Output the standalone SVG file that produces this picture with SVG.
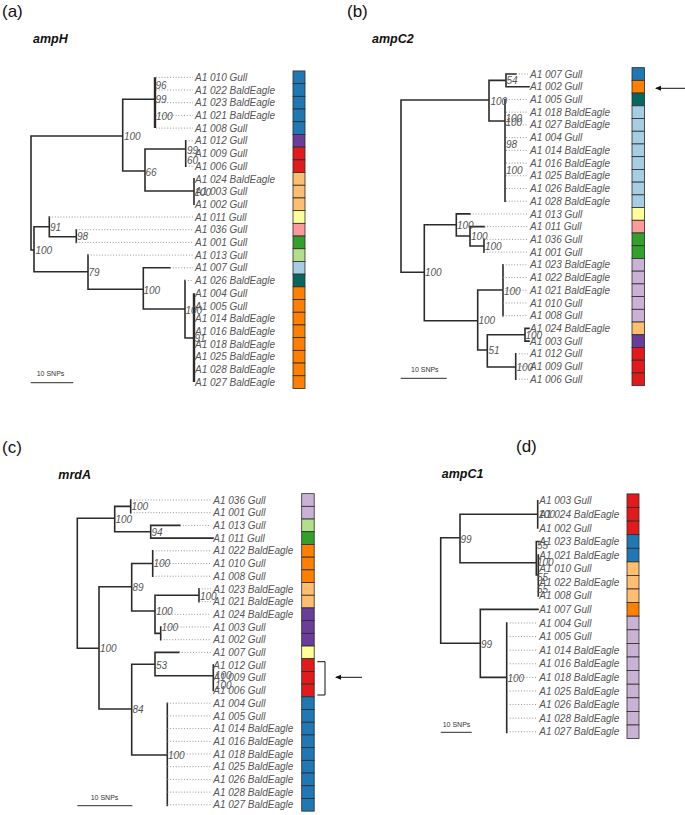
<svg xmlns="http://www.w3.org/2000/svg" width="685" height="815" viewBox="0 0 685 815">
<style>
.br{stroke:#2b2b2b;stroke-width:1.6;fill:none;stroke-linecap:square}
.tk{stroke:#2b2b2b;stroke-width:2.4;fill:none}
.dt{stroke:#8a8a8a;stroke-width:0.9;stroke-dasharray:1 1.8;fill:none}
.t{font-family:"Liberation Sans",Arial,sans-serif;font-style:italic;font-size:10px;fill:#555}
.bs{font-family:"Liberation Sans",Arial,sans-serif;font-style:italic;font-size:10px;fill:#555}
.ttl{font-family:"Liberation Sans",Arial,sans-serif;font-style:italic;font-weight:bold;font-size:12.5px;fill:#111}
.pl{font-family:"Liberation Sans",Arial,sans-serif;font-size:17px;fill:#111}
.sc{font-family:"Liberation Sans",Arial,sans-serif;font-size:7px;fill:#333}
.sb{stroke:#555;stroke-width:1.2}
.b{stroke:#2b2b2b;stroke-width:0.8}
.bl{fill:#1f78b4}.lb{fill:#a6cee3}.gr{fill:#33a02c}.lg{fill:#b2df8a}.rd{fill:#e31a1c}.pk{fill:#fb9a99}
.or{fill:#ff7f00}.lo{fill:#fdbf6f}.pu{fill:#6a3d9a}.lv{fill:#cab2d6}.ye{fill:#ffff99}.te{fill:#05685d}
.ar{stroke:#111;stroke-width:1;fill:none}
</style>
<defs>
<marker id="ah" viewBox="0 0 6 6" refX="5" refY="3" markerWidth="6" markerHeight="6" orient="auto" markerUnits="userSpaceOnUse">
<path d="M0,0.5L6,3L0,5.5z" fill="#111"/>
</marker>
</defs>
<rect width="685" height="815" fill="#fff"/>

<!-- Panel labels and titles -->
<text class="pl" x="2" y="17">(a)</text>
<text class="pl" x="347" y="17">(b)</text>
<text class="pl" x="2" y="453">(c)</text>
<text class="pl" x="516" y="452">(d)</text>
<text class="ttl" x="33" y="43">ampH</text>
<text class="ttl" x="372" y="43">ampC2</text>
<text class="ttl" x="58.3" y="479">mrdA</text>
<text class="ttl" x="441.7" y="477.5">ampC1</text>

<!-- Connectors -->
<g id="connectors">
<path class="br" d="M31,136V250M31,136H122.7M31,250H34M122.7,99.3V171M122.7,99.3H155M122.7,171H145M145,149V191M145,149H185.7M145,191H194M185.7,140.8V166.2M194,178.9V204.3M34,226.7V271.7M34,226.7H49.3M34,271.7H88M49.3,217V236.7M49.3,236.7H76.3M76.3,229.7V242.4M88,255.1V289.3M88,289.3H143.3M143.3,267.8V309M143.3,267.8H170M143.3,309H185M185,280.5V338M185,338H194"/>
<path class="tk" d="M155,77.3V128.1M194,293.2V382.1"/>
<path class="dt" d="M156,77.3H193M156,90H193M156,102.7H193M156,115.4H193M156,128.1H193M186,140.8H193M186,153.5H193M186,166.2H193M49.3,217H193M76.3,229.7H193M76.3,242.4H193M88,255.1H193M170,267.8H193M185,280.5H193"/>

<path class="br" d="M401,100V272.3M401,100H489M401,272.3H424.3M489,80.4V121M489,80.4H506M489,121H505M506,74V86.72M506,74H516M506,86.72H529M505,99.44V201.2M424.3,224.7V320.7M424.3,224.7H456.3M424.3,320.7H477.7M456.3,213.92V236M456.3,213.92H470M456.3,236H470M470,226.64V246M470,226.64H484.3M470,246H484M484,239.36V252.08M477.7,290V350M477.7,290H503M477.7,350H487.3M503,264.8V315.68M487.3,334.8V367M487.3,334.8H525M487.3,367H515.7M525,328.4V341.12M525,328.4H529M525,341.12H529M515.7,353.84V379.28"/>
<path class="dt" d="M516,74H528M506,99.44H528M506,112.16H528M506,124.88H528M506,137.6H528M506,150.32H528M506,163.04H528M506,175.76H528M506,188.48H528M506,201.2H528M470,213.92H528M484.3,226.64H528M484,239.36H528M484,252.08H528M503,264.8H528M503,277.52H528M503,290.24H528M503,302.96H528M503,315.68H528M516,353.84H528M516,366.56H528M516,379.28H528"/>

<path class="br" d="M77.3,518.3V648.3M77.3,518.3H114.7M77.3,648.3H99M114.7,506.4V531.7M114.7,506.4H130.7M114.7,531.7H150.7M130.7,500V512.7M150.7,525.4V538.1M150.7,525.4H180M150.7,538.1H213M99,586.7V709M99,586.7H131.7M99,709H131.7M131.7,563.5V611M131.7,563.5H152.7M131.7,611H155M152.7,550.8V576.2M155,595.3V633.4M155,595.3H199M155,633.4H160.7M199,588.9V601.6M160.7,627V639.7M131.7,664.3V755M131.7,664.3H155M131.7,755H167.3M155,652.4V675.7M155,652.4H179M155,675.7H213.3M213.3,665.1V690.5M167.3,703.2V805.5"/>
<path class="dt" d="M131,500H211M131,512.7H211M180,525.4H211M153,550.8H211M153,563.5H211M153,576.2H211M199,588.9H211M199,601.6H211M155,614.3H211M161,627H211M161,639.7H211M179,652.4H211M167.3,703.2H211M167.3,715.9H211M167.3,728.6H211M167.3,741.3H211M167.3,754H211M167.3,766.7H211M167.3,779.4H211M167.3,792.1H211M167.3,804.8H211"/>

<path class="br" d="M440.7,537.7V643.3M440.7,537.7H460M440.7,643.3H480.3M460,514.29V562.7M460,514.29H537.7M460,562.7H536.3M537.7,500.7V527.88M536.3,541.47V575M536.3,541.47H539M536.3,575H538.3M538.3,555.06V595.83M480.3,609.42V677.37M480.3,609.42H538M480.3,677.37H506.7M506.7,623V732.5"/>
<path class="dt" d="M507,623.01H537M507,636.6H537M507,650.19H537M507,663.78H537M507,677.37H537M507,690.96H537M507,704.55H537M507,718.14H537M507,731.73H537"/>

<!-- scale bars -->
<path class="sb" d="M30.7,382.7H73.3M400.7,378.3H446.7M77.3,805.7H132.3M440.7,732.3H471.7"/>
<!-- arrows and bracket -->
<path class="ar" d="M685,88.3H656" marker-end="url(#ah)"/>
<path class="ar" d="M362,677.3H336" marker-end="url(#ah)"/>
<path class="ar" d="M317.3,661.7H325V695H317.3" stroke="#444" stroke-width="0.9"/>
</g>

<!-- scale texts -->
<text class="sc" x="36.7" y="375.5">10 SNPs</text>
<text class="sc" x="411" y="371.5">10 SNPs</text>
<text class="sc" x="90.7" y="799.7">10 SNPs</text>
<text class="sc" x="442.7" y="726.5">10 SNPs</text>

<!-- bootstrap labels -->
<g id="support-a">
<text class="bs" x="155.5" y="88.6">96</text><text class="bs" x="155.5" y="103.1">99</text><text class="bs" x="156" y="119.6">100</text>
<text class="bs" x="124" y="139.6">100</text><text class="bs" x="187" y="153.6">99</text><text class="bs" x="187" y="163.6">60</text>
<text class="bs" x="145.5" y="175.6">66</text><text class="bs" x="194.5" y="195.6">100</text><text class="bs" x="50" y="231.3">91</text>
<text class="bs" x="77" y="240.3">98</text><text class="bs" x="35.5" y="253.6">100</text><text class="bs" x="88.5" y="276.3">79</text>
<text class="bs" x="143.5" y="293.6">100</text><text class="bs" x="185.5" y="313.6">100</text><text class="bs" x="194.5" y="341.6">91</text>
</g>
<g id="support-b">
<text class="bs" x="490.5" y="105.3">100</text><text class="bs" x="506.5" y="84.3">54</text><text class="bs" x="505.5" y="121.6">100</text>
<text class="bs" x="505.5" y="126.3">100</text><text class="bs" x="506" y="147.9">98</text><text class="bs" x="506" y="173.6">100</text>
<text class="bs" x="425" y="275.6">100</text><text class="bs" x="457" y="229.3">100</text><text class="bs" x="471" y="240.3">100</text>
<text class="bs" x="485" y="249.6">100</text><text class="bs" x="478.5" y="324.3">100</text><text class="bs" x="504" y="294.6">100</text>
<text class="bs" x="488.5" y="354.3">51</text><text class="bs" x="525.5" y="338.9">100</text><text class="bs" x="516.5" y="370.9">100</text>
</g>
<g id="support-c">
<text class="bs" x="115.5" y="522.6">100</text><text class="bs" x="131.5" y="510.3">100</text><text class="bs" x="151.5" y="535.9">94</text>
<text class="bs" x="100" y="652.1">100</text><text class="bs" x="132.5" y="591.3">89</text><text class="bs" x="153.5" y="567.3">100</text>
<text class="bs" x="156" y="615.1">100</text><text class="bs" x="200" y="600.3">100</text><text class="bs" x="161.5" y="631.3">100</text>
<text class="bs" x="132.5" y="713.3">84</text><text class="bs" x="156" y="668.6">53</text><text class="bs" x="215" y="678.6">100</text>
<text class="bs" x="215" y="688.6">100</text><text class="bs" x="168" y="758.6">100</text>
</g>
<g id="support-d">
<text class="bs" x="460.5" y="542.9">99</text><text class="bs" x="538.5" y="517.9">100</text><text class="bs" x="537" y="549.3">55</text>
<text class="bs" x="537" y="566.3">100</text><text class="bs" x="537" y="580.9">55</text><text class="bs" x="537" y="592.6">55</text>
<text class="bs" x="481" y="647.6">99</text><text class="bs" x="507.5" y="681.6">100</text>
</g>

<!-- Panel (a) tips -->
<g id="a-010"><text class="t" x="195" y="80.9">A1 010 Gull</text><rect class="b bl" x="293" y="70.95" width="12" height="12.7"/></g>
<g id="a-022"><text class="t" x="195" y="93.6">A1 022 BaldEagle</text><rect class="b bl" x="293" y="83.65" width="12" height="12.7"/></g>
<g id="a-023"><text class="t" x="195" y="106.3">A1 023 BaldEagle</text><rect class="b bl" x="293" y="96.35" width="12" height="12.7"/></g>
<g id="a-021"><text class="t" x="195" y="119">A1 021 BaldEagle</text><rect class="b bl" x="293" y="109.05" width="12" height="12.7"/></g>
<g id="a-008"><text class="t" x="195" y="131.7">A1 008 Gull</text><rect class="b bl" x="293" y="121.75" width="12" height="12.7"/></g>
<g id="a-012"><text class="t" x="195" y="144.4">A1 012 Gull</text><rect class="b pu" x="293" y="134.45" width="12" height="12.7"/></g>
<g id="a-009"><text class="t" x="195" y="157.1">A1 009 Gull</text><rect class="b rd" x="293" y="147.15" width="12" height="12.7"/></g>
<g id="a-006"><text class="t" x="195" y="169.8">A1 006 Gull</text><rect class="b rd" x="293" y="159.85" width="12" height="12.7"/></g>
<g id="a-024"><text class="t" x="195" y="182.5">A1 024 BaldEagle</text><rect class="b lo" x="293" y="172.55" width="12" height="12.7"/></g>
<g id="a-003"><text class="t" x="195" y="195.2">A1 003 Gull</text><rect class="b lo" x="293" y="185.25" width="12" height="12.7"/></g>
<g id="a-002"><text class="t" x="195" y="207.9">A1 002 Gull</text><rect class="b lo" x="293" y="197.95" width="12" height="12.7"/></g>
<g id="a-011"><text class="t" x="195" y="220.6">A1 011 Gull</text><rect class="b ye" x="293" y="210.65" width="12" height="12.7"/></g>
<g id="a-036"><text class="t" x="195" y="233.3">A1 036 Gull</text><rect class="b pk" x="293" y="223.35" width="12" height="12.7"/></g>
<g id="a-001"><text class="t" x="195" y="246">A1 001 Gull</text><rect class="b gr" x="293" y="236.05" width="12" height="12.7"/></g>
<g id="a-013"><text class="t" x="195" y="258.7">A1 013 Gull</text><rect class="b lg" x="293" y="248.75" width="12" height="12.7"/></g>
<g id="a-007"><text class="t" x="195" y="271.4">A1 007 Gull</text><rect class="b lb" x="293" y="261.45" width="12" height="12.7"/></g>
<g id="a-026"><text class="t" x="195" y="284.1">A1 026 BaldEagle</text><rect class="b te" x="293" y="274.15" width="12" height="12.7"/></g>
<g id="a-004"><text class="t" x="195" y="296.8">A1 004 Gull</text><rect class="b or" x="293" y="286.85" width="12" height="12.7"/></g>
<g id="a-005"><text class="t" x="195" y="309.5">A1 005 Gull</text><rect class="b or" x="293" y="299.55" width="12" height="12.7"/></g>
<g id="a-014"><text class="t" x="195" y="322.2">A1 014 BaldEagle</text><rect class="b or" x="293" y="312.25" width="12" height="12.7"/></g>
<g id="a-016"><text class="t" x="195" y="334.9">A1 016 BaldEagle</text><rect class="b or" x="293" y="324.95" width="12" height="12.7"/></g>
<g id="a-018"><text class="t" x="195" y="347.6">A1 018 BaldEagle</text><rect class="b or" x="293" y="337.65" width="12" height="12.7"/></g>
<g id="a-025"><text class="t" x="195" y="360.3">A1 025 BaldEagle</text><rect class="b or" x="293" y="350.35" width="12" height="12.7"/></g>
<g id="a-028"><text class="t" x="195" y="373">A1 028 BaldEagle</text><rect class="b or" x="293" y="363.05" width="12" height="12.7"/></g>
<g id="a-027"><text class="t" x="195" y="385.7">A1 027 BaldEagle</text><rect class="b or" x="293" y="375.75" width="12" height="12.7"/></g>

<!-- Panel (b) tips -->
<g id="b-007"><text class="t" x="530" y="77.6">A1 007 Gull</text><rect class="b bl" x="632" y="67.64" width="12.5" height="12.72"/></g>
<g id="b-002"><text class="t" x="530" y="90.32">A1 002 Gull</text><rect class="b or" x="632" y="80.36" width="12.5" height="12.72"/></g>
<g id="b-005"><text class="t" x="530" y="103.04">A1 005 Gull</text><rect class="b te" x="632" y="93.08" width="12.5" height="12.72"/></g>
<g id="b-018"><text class="t" x="530" y="115.76">A1 018 BaldEagle</text><rect class="b lb" x="632" y="105.8" width="12.5" height="12.72"/></g>
<g id="b-027"><text class="t" x="530" y="128.48">A1 027 BaldEagle</text><rect class="b lb" x="632" y="118.52" width="12.5" height="12.72"/></g>
<g id="b-004"><text class="t" x="530" y="141.2">A1 004 Gull</text><rect class="b lb" x="632" y="131.24" width="12.5" height="12.72"/></g>
<g id="b-014"><text class="t" x="530" y="153.92">A1 014 BaldEagle</text><rect class="b lb" x="632" y="143.96" width="12.5" height="12.72"/></g>
<g id="b-016"><text class="t" x="530" y="166.64">A1 016 BaldEagle</text><rect class="b lb" x="632" y="156.68" width="12.5" height="12.72"/></g>
<g id="b-025"><text class="t" x="530" y="179.36">A1 025 BaldEagle</text><rect class="b lb" x="632" y="169.4" width="12.5" height="12.72"/></g>
<g id="b-026"><text class="t" x="530" y="192.08">A1 026 BaldEagle</text><rect class="b lb" x="632" y="182.12" width="12.5" height="12.72"/></g>
<g id="b-028"><text class="t" x="530" y="204.8">A1 028 BaldEagle</text><rect class="b lb" x="632" y="194.84" width="12.5" height="12.72"/></g>
<g id="b-013"><text class="t" x="530" y="217.52">A1 013 Gull</text><rect class="b ye" x="632" y="207.56" width="12.5" height="12.72"/></g>
<g id="b-011"><text class="t" x="530" y="230.24">A1 011 Gull</text><rect class="b pk" x="632" y="220.28" width="12.5" height="12.72"/></g>
<g id="b-036"><text class="t" x="530" y="242.96">A1 036 Gull</text><rect class="b gr" x="632" y="233" width="12.5" height="12.72"/></g>
<g id="b-001"><text class="t" x="530" y="255.68">A1 001 Gull</text><rect class="b gr" x="632" y="245.72" width="12.5" height="12.72"/></g>
<g id="b-023"><text class="t" x="530" y="268.4">A1 023 BaldEagle</text><rect class="b lv" x="632" y="258.44" width="12.5" height="12.72"/></g>
<g id="b-022"><text class="t" x="530" y="281.12">A1 022 BaldEagle</text><rect class="b lv" x="632" y="271.16" width="12.5" height="12.72"/></g>
<g id="b-021"><text class="t" x="530" y="293.84">A1 021 BaldEagle</text><rect class="b lv" x="632" y="283.88" width="12.5" height="12.72"/></g>
<g id="b-010"><text class="t" x="530" y="306.56">A1 010 Gull</text><rect class="b lv" x="632" y="296.6" width="12.5" height="12.72"/></g>
<g id="b-008"><text class="t" x="530" y="319.28">A1 008 Gull</text><rect class="b lv" x="632" y="309.32" width="12.5" height="12.72"/></g>
<g id="b-024"><text class="t" x="530" y="332">A1 024 BaldEagle</text><rect class="b lo" x="632" y="322.04" width="12.5" height="12.72"/></g>
<g id="b-003"><text class="t" x="530" y="344.72">A1 003 Gull</text><rect class="b pu" x="632" y="334.76" width="12.5" height="12.72"/></g>
<g id="b-012"><text class="t" x="530" y="357.44">A1 012 Gull</text><rect class="b rd" x="632" y="347.48" width="12.5" height="12.72"/></g>
<g id="b-009"><text class="t" x="530" y="370.16">A1 009 Gull</text><rect class="b rd" x="632" y="360.2" width="12.5" height="12.72"/></g>
<g id="b-006"><text class="t" x="530" y="382.88">A1 006 Gull</text><rect class="b rd" x="632" y="372.92" width="12.5" height="12.72"/></g>

<!-- Panel (c) tips -->
<g id="c-036"><text class="t" x="213.3" y="503.6">A1 036 Gull</text><rect class="b lv" x="301.7" y="493.65" width="12.5" height="12.7"/></g>
<g id="c-001"><text class="t" x="213.3" y="516.3">A1 001 Gull</text><rect class="b lv" x="301.7" y="506.35" width="12.5" height="12.7"/></g>
<g id="c-013"><text class="t" x="213.3" y="529">A1 013 Gull</text><rect class="b lg" x="301.7" y="519.05" width="12.5" height="12.7"/></g>
<g id="c-011"><text class="t" x="213.3" y="541.7">A1 011 Gull</text><rect class="b gr" x="301.7" y="531.75" width="12.5" height="12.7"/></g>
<g id="c-022"><text class="t" x="213.3" y="554.4">A1 022 BaldEagle</text><rect class="b or" x="301.7" y="544.45" width="12.5" height="12.7"/></g>
<g id="c-010"><text class="t" x="213.3" y="567.1">A1 010 Gull</text><rect class="b or" x="301.7" y="557.15" width="12.5" height="12.7"/></g>
<g id="c-008"><text class="t" x="213.3" y="579.8">A1 008 Gull</text><rect class="b or" x="301.7" y="569.85" width="12.5" height="12.7"/></g>
<g id="c-023"><text class="t" x="213.3" y="592.5">A1 023 BaldEagle</text><rect class="b lo" x="301.7" y="582.55" width="12.5" height="12.7"/></g>
<g id="c-021"><text class="t" x="213.3" y="605.2">A1 021 BaldEagle</text><rect class="b lo" x="301.7" y="595.25" width="12.5" height="12.7"/></g>
<g id="c-024"><text class="t" x="213.3" y="617.9">A1 024 BaldEagle</text><rect class="b pu" x="301.7" y="607.95" width="12.5" height="12.7"/></g>
<g id="c-003"><text class="t" x="213.3" y="630.6">A1 003 Gull</text><rect class="b pu" x="301.7" y="620.65" width="12.5" height="12.7"/></g>
<g id="c-002"><text class="t" x="213.3" y="643.3">A1 002 Gull</text><rect class="b pu" x="301.7" y="633.35" width="12.5" height="12.7"/></g>
<g id="c-007"><text class="t" x="213.3" y="656">A1 007 Gull</text><rect class="b ye" x="301.7" y="646.05" width="12.5" height="12.7"/></g>
<g id="c-012"><text class="t" x="213.3" y="668.7">A1 012 Gull</text><rect class="b rd" x="301.7" y="658.75" width="12.5" height="12.7"/></g>
<g id="c-009"><text class="t" x="213.3" y="681.4">A1 009 Gull</text><rect class="b rd" x="301.7" y="671.45" width="12.5" height="12.7"/></g>
<g id="c-006"><text class="t" x="213.3" y="694.1">A1 006 Gull</text><rect class="b rd" x="301.7" y="684.15" width="12.5" height="12.7"/></g>
<g id="c-004"><text class="t" x="213.3" y="706.8">A1 004 Gull</text><rect class="b bl" x="301.7" y="696.85" width="12.5" height="12.7"/></g>
<g id="c-005"><text class="t" x="213.3" y="719.5">A1 005 Gull</text><rect class="b bl" x="301.7" y="709.55" width="12.5" height="12.7"/></g>
<g id="c-014"><text class="t" x="213.3" y="732.2">A1 014 BaldEagle</text><rect class="b bl" x="301.7" y="722.25" width="12.5" height="12.7"/></g>
<g id="c-016"><text class="t" x="213.3" y="744.9">A1 016 BaldEagle</text><rect class="b bl" x="301.7" y="734.95" width="12.5" height="12.7"/></g>
<g id="c-018"><text class="t" x="213.3" y="757.6">A1 018 BaldEagle</text><rect class="b bl" x="301.7" y="747.65" width="12.5" height="12.7"/></g>
<g id="c-025"><text class="t" x="213.3" y="770.3">A1 025 BaldEagle</text><rect class="b bl" x="301.7" y="760.35" width="12.5" height="12.7"/></g>
<g id="c-026"><text class="t" x="213.3" y="783">A1 026 BaldEagle</text><rect class="b bl" x="301.7" y="773.05" width="12.5" height="12.7"/></g>
<g id="c-028"><text class="t" x="213.3" y="795.7">A1 028 BaldEagle</text><rect class="b bl" x="301.7" y="785.75" width="12.5" height="12.7"/></g>
<g id="c-027"><text class="t" x="213.3" y="808.4">A1 027 BaldEagle</text><rect class="b bl" x="301.7" y="798.45" width="12.5" height="12.7"/></g>

<!-- Panel (d) tips -->
<g id="d-003"><text class="t" x="539.3" y="504.3">A1 003 Gull</text><rect class="b rd" x="627" y="493.9" width="12" height="13.6"/></g>
<g id="d-024"><text class="t" x="539.3" y="517.9">A1 024 BaldEagle</text><rect class="b rd" x="627" y="507.5" width="12" height="13.6"/></g>
<g id="d-002"><text class="t" x="539.3" y="531.5">A1 002 Gull</text><rect class="b rd" x="627" y="521.1" width="12" height="13.6"/></g>
<g id="d-023"><text class="t" x="539.3" y="545.1">A1 023 BaldEagle</text><rect class="b bl" x="627" y="534.7" width="12" height="13.6"/></g>
<g id="d-021"><text class="t" x="539.3" y="558.7">A1 021 BaldEagle</text><rect class="b bl" x="627" y="548.3" width="12" height="13.6"/></g>
<g id="d-010"><text class="t" x="539.3" y="572.3">A1 010 Gull</text><rect class="b lo" x="627" y="561.9" width="12" height="13.6"/></g>
<g id="d-022"><text class="t" x="539.3" y="585.8">A1 022 BaldEagle</text><rect class="b lo" x="627" y="575.4" width="12" height="13.6"/></g>
<g id="d-008"><text class="t" x="539.3" y="599.4">A1 008 Gull</text><rect class="b lo" x="627" y="589" width="12" height="13.6"/></g>
<g id="d-007"><text class="t" x="539.3" y="613">A1 007 Gull</text><rect class="b or" x="627" y="602.6" width="12" height="13.6"/></g>
<g id="d-004"><text class="t" x="539.3" y="626.6">A1 004 Gull</text><rect class="b lv" x="627" y="616.2" width="12" height="13.6"/></g>
<g id="d-005"><text class="t" x="539.3" y="640.2">A1 005 Gull</text><rect class="b lv" x="627" y="629.8" width="12" height="13.6"/></g>
<g id="d-014"><text class="t" x="539.3" y="653.8">A1 014 BaldEagle</text><rect class="b lv" x="627" y="643.4" width="12" height="13.6"/></g>
<g id="d-016"><text class="t" x="539.3" y="667.4">A1 016 BaldEagle</text><rect class="b lv" x="627" y="657" width="12" height="13.6"/></g>
<g id="d-018"><text class="t" x="539.3" y="681">A1 018 BaldEagle</text><rect class="b lv" x="627" y="670.6" width="12" height="13.6"/></g>
<g id="d-025"><text class="t" x="539.3" y="694.6">A1 025 BaldEagle</text><rect class="b lv" x="627" y="684.2" width="12" height="13.6"/></g>
<g id="d-026"><text class="t" x="539.3" y="708.2">A1 026 BaldEagle</text><rect class="b lv" x="627" y="697.8" width="12" height="13.6"/></g>
<g id="d-028"><text class="t" x="539.3" y="721.7">A1 028 BaldEagle</text><rect class="b lv" x="627" y="711.4" width="12" height="13.6"/></g>
<g id="d-027"><text class="t" x="539.3" y="735.3">A1 027 BaldEagle</text><rect class="b lv" x="627" y="725" width="12" height="13.6"/></g>
</svg>
